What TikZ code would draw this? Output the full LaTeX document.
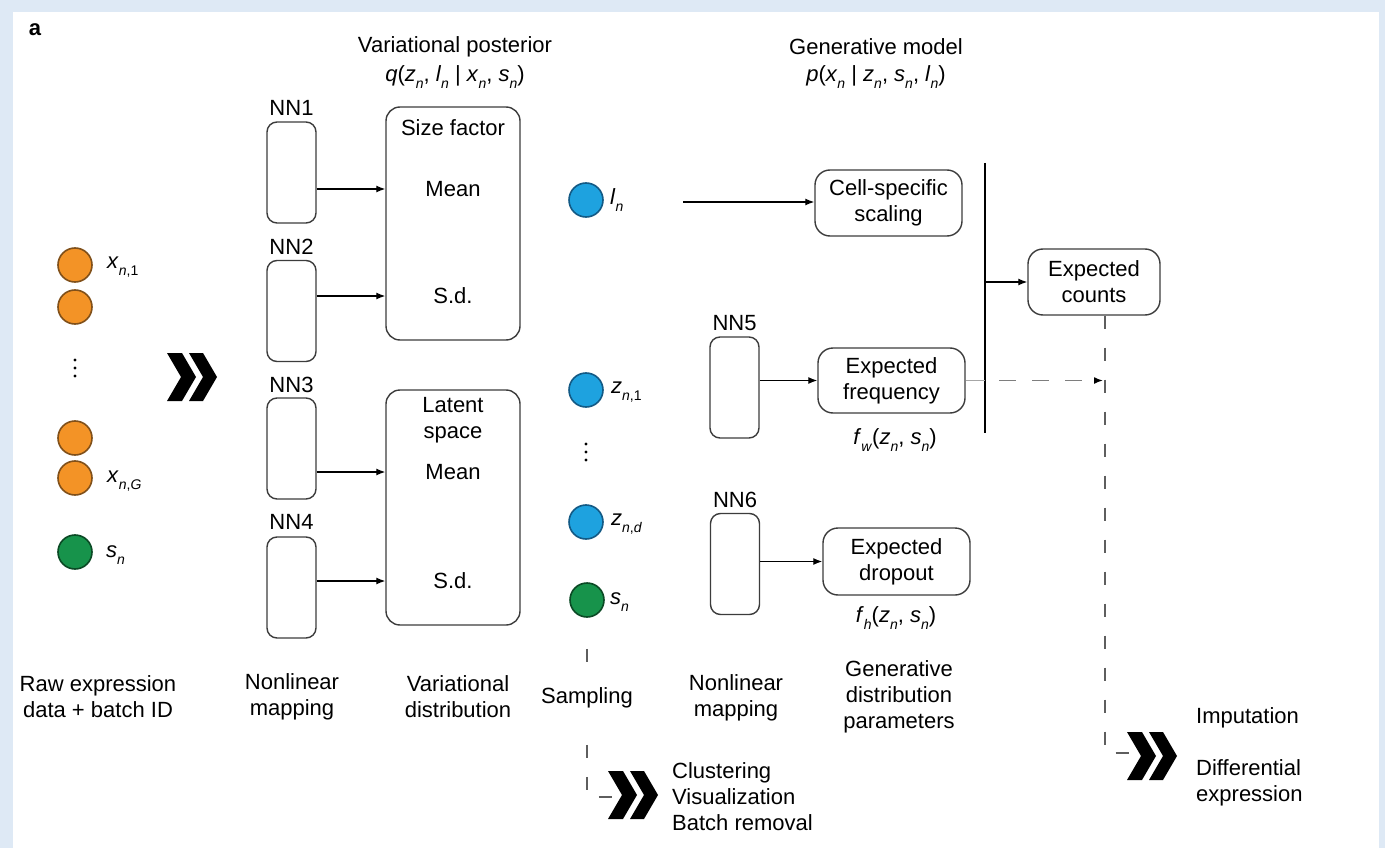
\documentclass[tikz,border=0pt]{standalone}
\usepackage{fontspec}
\setmainfont{Liberation Sans}
\usetikzlibrary{arrows.meta,calc}
\definecolor{bgblue}{HTML}{DEE9F5}
\definecolor{corange}{HTML}{F39326}
\definecolor{corangeD}{HTML}{80501A}
\definecolor{cblue}{HTML}{1EA2DF}
\definecolor{cblueD}{HTML}{135A85}
\definecolor{cgreen}{HTML}{17934B}
\definecolor{cgreenD}{HTML}{0B4A25}
\definecolor{boxline}{HTML}{3C3C3C}
\definecolor{dashgray}{HTML}{5E5E5E}
\newcommand{\mysub}[1]{\raisebox{-0.32em}{\fontsize{14}{14}\selectfont #1}}
\newcommand{\myv}[1]{\textit{#1}}
\newcommand{\mychevrons}[2]{%
  \fill[black] (#1,#2) -- ++(15,0) -- ++(14,24) -- ++(-14,24) -- ++(-15,0) -- ++(14,-24) -- cycle;
  \fill[black] ($(#1,#2)+(22,0)$) -- ++(14,0) -- ++(14,24) -- ++(-14,24) -- ++(-14,0) -- ++(14,-24) -- cycle;}
\begin{document}
\begin{tikzpicture}[x=1pt,y=-1pt,font=\fontsize{22}{26}\selectfont,
  nnbox/.style={draw=boxline,line width=1.4pt,rounded corners=10pt,minimum width=49pt,minimum height=101pt,inner sep=0pt},
  bigbox/.style={draw=boxline,line width=1.4pt,rounded corners=14pt,minimum width=134pt,inner sep=0pt},
  pbox/.style={draw=boxline,line width=1.4pt,rounded corners=15pt,align=center,inner sep=0pt},
  lbl/.style={inner sep=0pt,align=center},
  arr/.style={-{Latex[length=9pt,width=7pt]},line width=1.3pt},
  dotc/.style={circle,minimum size=34pt,inner sep=0pt,line width=1.6pt},
  odot/.style={dotc,fill=corange,draw=corangeD},
  bdot/.style={dotc,fill=cblue,draw=cblueD},
  gdot/.style={dotc,fill=cgreen,draw=cgreenD},
  dashv/.style={draw=dashgray,line width=1.5pt,dash pattern=on 13pt off 19pt},
  dashh/.style={draw=dashgray!80,line width=1.5pt,dash pattern=on 17pt off 16pt,-{Latex[length=9pt,width=7pt,color=black]}}]
\fill[bgblue] (0,0) rectangle (1385,848);
\fill[white] (13,12) rectangle (1379,848);
\useasboundingbox (0,0) rectangle (1385,848);

% titles
\node[lbl,font=\bfseries\fontsize{22}{26}\selectfont] (tag) at (35,30) {a};
\node[lbl] (vpt) at (455,47) {Variational posterior};
\node[lbl] (vpq) at (455,77) {\myv{q}(\myv{z}\mysub{\myv{n}}, \myv{l}\mysub{\myv{n}} | \myv{x}\mysub{\myv{n}}, \myv{s}\mysub{\myv{n}})};
\node[lbl] (gmt) at (876,47) {Generative model};
\node[lbl] (gmp) at (876,77) {\myv{p}(\myv{x}\mysub{\myv{n}} | \myv{z}\mysub{\myv{n}}, \myv{s}\mysub{\myv{n}}, \myv{l}\mysub{\myv{n}})};

% input circles
\node[odot] (ox1) at (75,265) {};
\node[odot] (ox2) at (75,307) {};
\node[odot] (ox3) at (75,438) {};
\node[odot] (ox4) at (75,478) {};
\node[gdot] (gs1) at (75,552) {};
\fill (75,360) circle (1.7); \fill (75,368) circle (1.7); \fill (75,376) circle (1.7);
\node[lbl,anchor=west] (lx1) at (107,267) {\myv{x}\mysub{\myv{n},1}};
\node[lbl,anchor=west] (lxg) at (107,481) {\myv{x}\mysub{\myv{n},\myv{G}}};
\node[lbl,anchor=west] (ls1) at (106,555) {\myv{s}\mysub{\myv{n}}};
\mychevrons{167}{353}

% encoder NNs
\node[nnbox] (nn1) at (291.5,172.5) {};
\node[nnbox] (nn2) at (291.5,311) {};
\node[nnbox] (nn3) at (291.5,448.5) {};
\node[nnbox] (nn4) at (291.5,587.5) {};
\node[lbl] (nn1l) at (291.5,108) {NN1};
\node[lbl] (nn2l) at (291.5,247) {NN2};
\node[lbl] (nn3l) at (291.5,385) {NN3};
\node[lbl] (nn4l) at (291.5,522) {NN4};

% variational boxes
\node[bigbox,minimum height=233pt] (vp1) at (453,223.5) {};
\node[bigbox,minimum height=235pt] (vp2) at (453,507.5) {};
\node[lbl] (sf) at (453,128) {Size factor};
\node[lbl] (m1) at (453,189) {Mean};
\node[lbl] (sd1) at (453,296) {S.d.};
\node[lbl] (lat) at (453,420) {Latent\\space};
\node[lbl] (m2) at (453,472) {Mean};
\node[lbl] (sd2) at (453,581) {S.d.};
\draw[arr] (nn1.east |- m1) -- (vp1.west |- m1);
\draw[arr] (nn2.east |- sd1) -- (vp1.west |- sd1);
\draw[arr] (nn3.east |- m2) -- (vp2.west |- m2);
\draw[arr] (nn4.east |- sd2) -- (vp2.west |- sd2);

% sampled variables
\node[bdot] (ln) at (586,200) {};
\node[bdot] (z1) at (586,390) {};
\node[bdot] (zd) at (586,522) {};
\node[gdot] (gs2) at (587,600) {};
\fill (586,444) circle (1.7); \fill (586,452) circle (1.7); \fill (586,460) circle (1.7);
\node[lbl,anchor=west] (lln) at (610,200) {\myv{l}\mysub{\myv{n}}};
\node[lbl,anchor=west] (lz1) at (611,392) {\myv{z}\mysub{\myv{n},1}};
\node[lbl,anchor=west] (lzd) at (611,524) {\myv{z}\mysub{\myv{n},\myv{d}}};
\node[lbl,anchor=west] (ls2) at (610,602) {\myv{s}\mysub{\myv{n}}};

% generative part
\node[pbox,minimum width=147pt,minimum height=66pt] (cell) at (888.5,203) {Cell-specific\\scaling};
\node[pbox,minimum width=147pt,minimum height=65pt] (freq) at (891.5,380.5) {Expected\\frequency};
\node[pbox,minimum width=147pt,minimum height=67pt] (drop) at (896.5,561.5) {Expected\\dropout};
\node[pbox,minimum width=132pt,minimum height=66pt] (counts) at (1094,282) {Expected\\counts};
\node[nnbox] (nn5) at (734.5,387.5) {};
\node[nnbox] (nn6) at (735,564) {};
\node[lbl] (nn5l) at (734.5,323) {NN5};
\node[lbl] (nn6l) at (735,500) {NN6};
\node[lbl] (fw) at (895,440) {\myv{f}\mysub{\myv{w}}(\myv{z}\mysub{\myv{n}}, \myv{s}\mysub{\myv{n}})};
\node[lbl] (fh) at (896,618) {\myv{f}\mysub{\myv{h}}(\myv{z}\mysub{\myv{n}}, \myv{s}\mysub{\myv{n}})};

\coordinate (lnstart) at (683,202);
\draw[arr] (lnstart) -- (cell.west |- lnstart);
\draw[arr] (nn5.east |- freq.west) -- (freq.west);
\draw[arr] (nn6.east |- drop.west) -- (drop.west);

\coordinate (bartop) at (985,163);
\coordinate (barbot) at (985,433);
\draw[line width=2.6pt] (bartop) -- (barbot);
\draw[arr] (bartop |- counts.west) -- (counts.west);
\draw[draw=gray!70,line width=1.6pt] (freq.east) -- (freq.east -| bartop);

\coordinate (dcorner) at (1105,753);
\coordinate (dend) at (1134,753);
\coordinate (hstart) at (999,0);
\draw[dashv] (counts.south -| dcorner) -- (dcorner) -- (dend);
\draw[dashh,shorten >=2pt] (hstart |- freq.east) -- (dcorner |- freq.east);
\mychevrons{1127}{732}
\node[lbl,anchor=west] (imp) at (1196,718) {Imputation};
\node[lbl,anchor=west,align=left] (diff) at (1196,783) {Differential\\expression};

% sampling branch
\coordinate (scorner) at (587,797);
\coordinate (send) at (616,797);
\draw[dashv,shorten <=31pt] (gs2.south) -- (scorner) -- (send);
\mychevrons{608}{771}
\node[lbl,anchor=west,align=left] (clus) at (672,797) {Clustering\\Visualization\\Batch removal};

% bottom captions
\node[lbl] (c1) at (98,697) {Raw expression\\data + batch ID};
\node[lbl] (c2) at (292,697) {Nonlinear\\mapping};
\node[lbl] (c3) at (458,697) {Variational\\distribution};
\node[lbl,fill=white,minimum height=60pt,inner xsep=2pt] (c4) at (587,698) {Sampling};
\node[lbl] (c5) at (736,698) {Nonlinear\\mapping};
\node[lbl] (c6) at (899,697) {Generative\\distribution\\parameters};
\end{tikzpicture}
\end{document}
